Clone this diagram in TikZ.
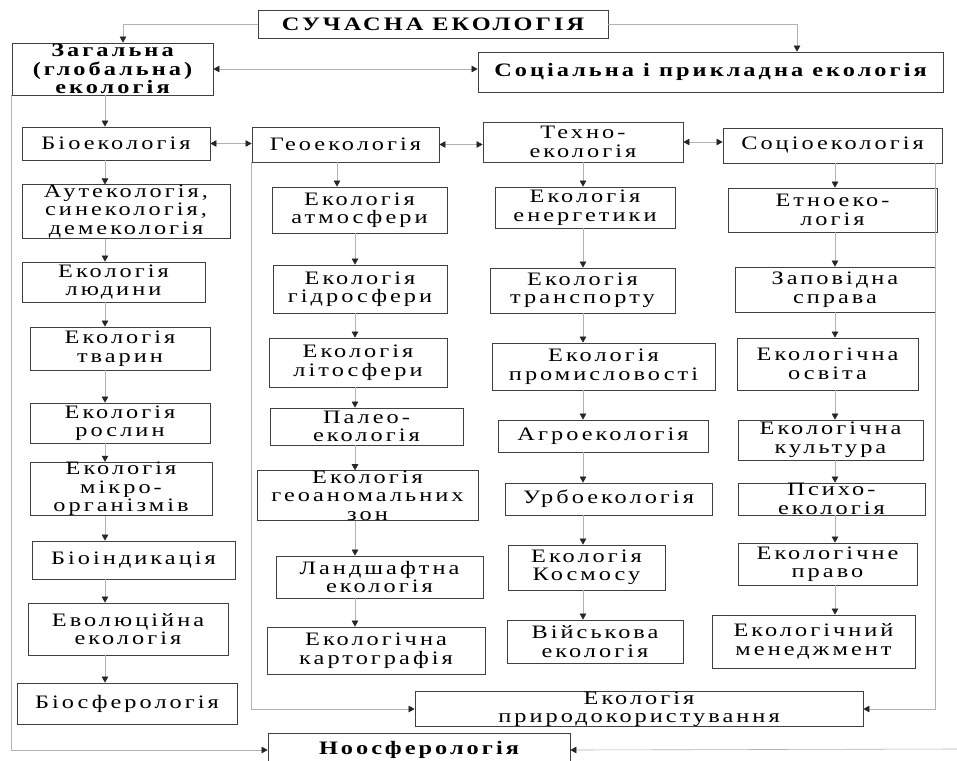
\documentclass[tikz,border=0pt]{standalone}
\usepackage{fontspec}
\setmainfont{Liberation Serif}[FakeStretch=1.28, LetterSpace=16]
\usetikzlibrary{arrows.meta,calc}
\newcommand\mybox[6]{\node[box, minimum width={(#4)-(#2)}, minimum height={(#5)-(#3)}] (#1) at ({((#2)+(#4))/2},{((#3)+(#5))/2}) {#6};}
\tikzset{
  box/.style={draw=black!75, line width=0.8pt, align=center, inner sep=0pt, fill=white,
    font=\fontsize{19}{18.5}\selectfont, text=black},
  con/.style={draw=gray!60, line width=0.6pt, -{Triangle[length=6pt,width=6.5pt,color=black!85]}},
  bicon/.style={draw=gray!60, line width=0.6pt, {Triangle[length=6pt,width=6.5pt,color=black!85]}-{Triangle[length=6pt,width=6.5pt,color=black!85]}}
}
\begin{document}
\begin{tikzpicture}[x=1pt,y=-1pt]
\fill[white] (0,0) rectangle (957,760);
\useasboundingbox (0,0) rectangle (957,760);
% column coordinates
\coordinate (xz) at (123,0);
\coordinate (xs) at (797,0);
\coordinate (xb) at (105,0);
\coordinate (xg0) at (337,0);
\coordinate (xg) at (355,0);
\coordinate (xt) at (583,0);
\coordinate (xc) at (835,0);
\coordinate (xr) at (935,0);
\coordinate (redge) at (957,749);
% top
\mybox{top}{258}{10}{608}{38}{\bfseries СУЧАСНА ЕКОЛОГІЯ}
\mybox{zag}{12}{43}{213}{95}{\bfseries Загальна\\\bfseries(глобальна)\\\bfseries екологія}
\mybox{sp}{478}{52}{943}{92}{\bfseries Соціальна і прикладна екологія}
% bio column
\mybox{b1}{22}{127}{210}{160}{Біоекологія}
\mybox{b2}{22}{185}{230}{238}{Аутекологія,\\синекологія,\\демекологія}
\mybox{b3}{22}{262}{205}{302}{Екологія\\людини}
\mybox{b4}{30}{327}{210}{370}{Екологія\\тварин}
\mybox{b5}{30}{403}{210}{443}{Екологія\\рослин}
\mybox{b6}{30}{465}{212}{513}{Екологія\\мікро-\\організмів}
\mybox{b7}{32}{541}{235}{579}{Біоіндикація}
\mybox{b8}{28}{603}{228}{655}{Еволюційна\\екологія}
\mybox{b9}{17}{683}{237}{724}{Біосферологія}
% geo column
\mybox{g1}{252}{127}{439}{162}{Геоекологія}
\mybox{g2}{272}{187}{447}{233}{Екологія\\атмосфери}
\mybox{g3}{273}{265}{447}{313}{Екологія\\гідросфери}
\mybox{g4}{269}{338}{447}{387}{Екологія\\літосфери}
\mybox{g5}{270}{408}{463}{445}{Палео-\\екологія}
\mybox{g6}{257}{471}{478}{520}{Екологія\\геоаномальних\\зон}
\mybox{g7}{276}{556}{483}{598}{Ландшафтна\\екологія}
\mybox{g8}{267}{627}{485}{674}{Екологічна\\картографія}
% tech column
\mybox{t1}{483}{122}{683}{162}{Техно-\\екологія}
\mybox{t2}{495}{187}{675}{228}{Екологія\\енергетики}
\mybox{t3}{490}{268}{675}{313}{Екологія\\транспорту}
\mybox{t4}{492}{343}{715}{390}{Екологія\\промисловості}
\mybox{t5}{498}{420}{708}{452}{Агроекологія}
\mybox{t6}{505}{483}{712}{515}{Урбоекологія}
\mybox{t7}{508}{545}{665}{590}{Екологія\\Космосу}
\mybox{t8}{507}{620}{683}{663}{Військова\\екологія}
% socio column
\mybox{s1}{723}{128}{942}{163}{Соціоекологія}
\mybox{s2}{728}{188}{937}{232}{Етноеко-\\логія}
\mybox{s3}{735}{267}{935}{312}{Заповідна\\справа}
\mybox{s4}{737}{338}{918}{390}{Екологічна\\освіта}
\mybox{s5}{738}{420}{923}{460}{Екологічна\\культура}
\mybox{s6}{738}{483}{925}{515}{Психо-\\екологія}
\mybox{s7}{738}{543}{917}{585}{Екологічне\\право}
\mybox{s8}{712}{615}{915}{668}{Екологічний\\менеджмент}
% bottom
\mybox{nat}{415}{692}{863}{726}{Екологія\\природокористування}
\mybox{noo}{268}{733}{570}{767}{\bfseries Ноосферологія}
% connectors: top
\draw[con] (top.west) -| (zag.north -| xz);
\draw[con] (top.east) -| (sp.north -| xs);
\draw[bicon] (zag.east) -- (zag.east -| sp.west);
% row
\draw[bicon] (b1.east) -- (b1.east -| g1.west);
\draw[bicon] (g1.east) -- (g1.east -| t1.west);
\draw[bicon] (t1.east) -- (t1.east -| s1.west);
% bio chain
\draw[con] (zag.south -| xb) -- (b1.north -| xb);
\draw[con] (b1.south -| xb) -- (b2.north -| xb);
\draw[con] (b2.south -| xb) -- (b3.north -| xb);
\draw[con] (b3.south -| xb) -- (b4.north -| xb);
\draw[con] (b4.south -| xb) -- (b5.north -| xb);
\draw[con] (b5.south -| xb) -- (b6.north -| xb);
\draw[con] (b6.south -| xb) -- (b7.north -| xb);
\draw[con] (b7.south -| xb) -- (b8.north -| xb);
\draw[con] (b8.south -| xb) -- (b9.north -| xb);
% geo chain
\draw[con] (g1.south -| xg0) -- (g2.north -| xg0);
\draw[con] (g2.south -| xg) -- (g3.north -| xg);
\draw[con] (g3.south -| xg) -- (g4.north -| xg);
\draw[con] (g4.south -| xg) -- (g5.north -| xg);
\draw[con] (g5.south -| xg) -- (g6.north -| xg);
\draw[con] (g6.south -| xg) -- (g7.north -| xg);
\draw[con] (g7.south -| xg) -- (g8.north -| xg);
% tech chain
\draw[con] (t1.south -| xt) -- (t2.north -| xt);
\draw[con] (t2.south -| xt) -- (t3.north -| xt);
\draw[con] (t3.south -| xt) -- (t4.north -| xt);
\draw[con] (t4.south -| xt) -- (t5.north -| xt);
\draw[con] (t5.south -| xt) -- (t6.north -| xt);
\draw[con] (t6.south -| xt) -- (t7.north -| xt);
\draw[con] (t7.south -| xt) -- (t8.north -| xt);
% socio chain
\draw[con] (s1.south -| xc) -- (s2.north -| xc);
\draw[con] (s2.south -| xc) -- (s3.north -| xc);
\draw[con] (s3.south -| xc) -- (s4.north -| xc);
\draw[con] (s4.south -| xc) -- (s5.north -| xc);
\draw[con] (s5.south -| xc) -- (s6.north -| xc);
\draw[con] (s6.south -| xc) -- (s7.north -| xc);
\draw[con] (s7.south -| xc) -- (s8.north -| xc);
% long lines
\draw[con] (zag.south west) |- (noo.west);
\draw[con] (g1.south west) |- (nat.west);
\draw[con] (s1.south -| xr) |- (nat.east);
\draw[con] (redge) -- (noo.east);
\end{tikzpicture}
\end{document}
